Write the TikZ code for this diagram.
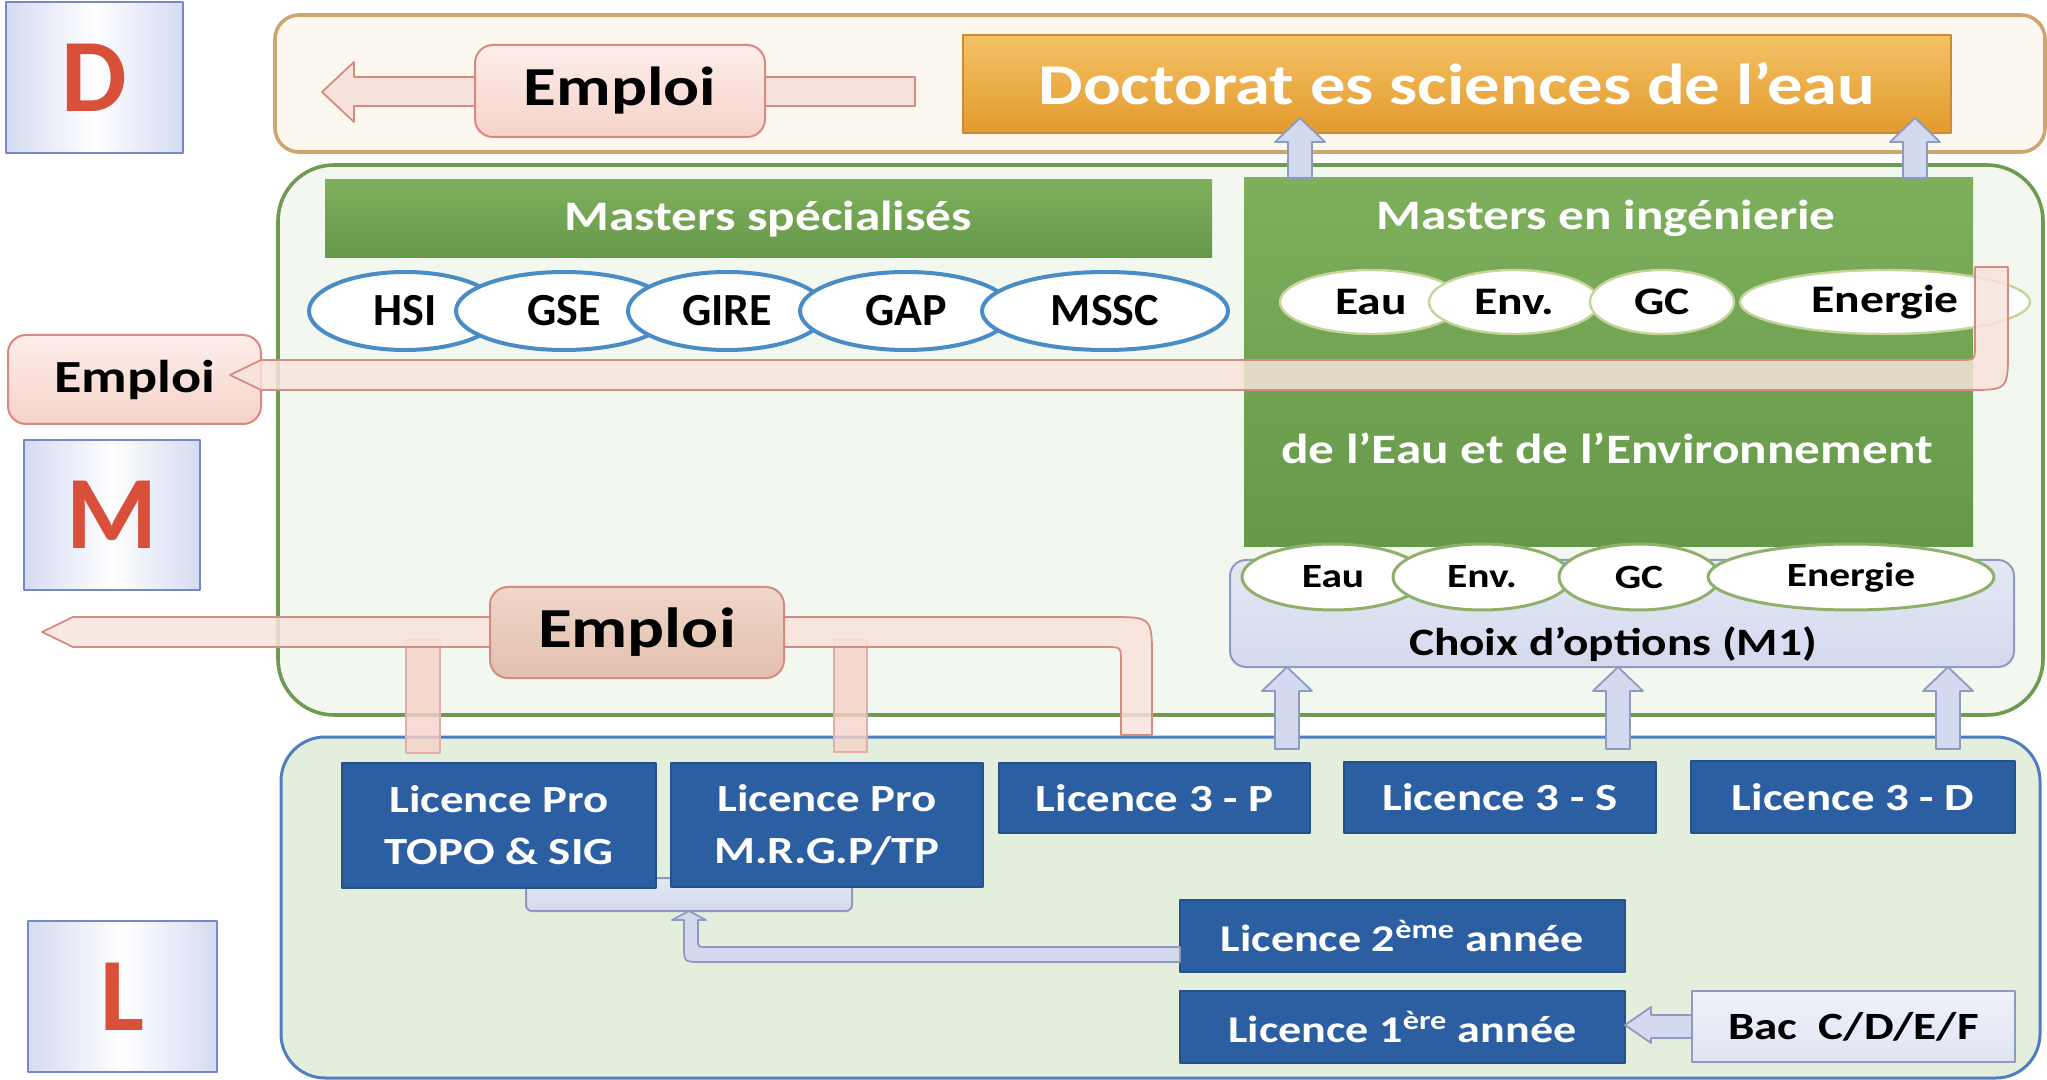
\documentclass[tikz,border=0pt]{standalone}
\usepackage{fontspec}
\setmainfont{Carlito}[FakeStretch=1.22]
\newfontfamily\lvlfont{Carlito}
\usetikzlibrary{shapes.geometric}

\definecolor{tanline}{HTML}{CFA46E}
\definecolor{tanfill}{HTML}{FCF8EF}
\definecolor{doctop}{HTML}{F4C266}
\definecolor{docbot}{HTML}{E39A2D}
\definecolor{docline}{HTML}{C98B34}
\definecolor{pinktop}{HTML}{FDEEEA}
\definecolor{pinkbot}{HTML}{F6D2CA}
\definecolor{pinkline}{HTML}{D98A80}
\definecolor{tantop}{HTML}{F0D6C9}
\definecolor{tanbot}{HTML}{E3BFAE}
\definecolor{lvlside}{HTML}{D5DBF2}
\definecolor{lvlline}{HTML}{7688C8}
\definecolor{lettered}{HTML}{D9503A}
\definecolor{mline}{HTML}{6F9A52}
\definecolor{mfill}{HTML}{F2F7EF}
\definecolor{gbartop}{HTML}{7DAF5C}
\definecolor{gbarbot}{HTML}{66984A}
\definecolor{ellblue}{HTML}{4A8CC6}
\definecolor{ellygreen}{HTML}{C4D59A}
\definecolor{ellgreen}{HTML}{8FB06B}
\definecolor{dblue}{HTML}{2C5FA2}
\definecolor{dblueline}{HTML}{24508C}
\definecolor{lfill}{HTML}{E4EEDC}
\definecolor{lline}{HTML}{4F7EC0}
\definecolor{lavfill}{HTML}{D3D9EE}
\definecolor{lavline}{HTML}{8E9BC0}
\definecolor{pipefill}{HTML}{F8E3DC}
\definecolor{pipeline}{HTML}{D48C82}

\tikzset{
  lvlbox/.style={draw=lvlline, line width=1pt, left color=lvlside, right color=lvlside,
    middle color=white, inner sep=0, text=lettered,
    font=\lvlfont\bfseries\fontsize{52}{52}\selectfont},
  container/.style={line width=1.8pt, inner sep=0},
  pinkbox/.style={draw=pinkline, line width=1pt, top color=pinktop, bottom color=pinkbot,
    rounded corners=9pt, inner sep=0},
  tanbox/.style={draw=pipeline, line width=1pt, top color=tantop, bottom color=tanbot,
    rounded corners=9pt, inner sep=0},
  docbox/.style={draw=docline, line width=1pt, top color=doctop, bottom color=docbot,
    inner sep=0, text=white, font=\bfseries\fontsize{28.9}{28.9}\selectfont},
  greenbar/.style={fill=gbarbot, top color=gbartop, bottom color=gbarbot, inner sep=0},
  bartext/.style={text=white, inner sep=0, font=\bfseries\fontsize{21}{21}\selectfont},
  blueell/.style={ellipse, draw=ellblue, line width=2pt, fill=white, inner sep=0,
    font=\lvlfont\bfseries\fontsize{23}{23}\selectfont},
  yell/.style={ellipse, draw=ellygreen, line width=1.2pt, fill=white, inner sep=0,
    font=\bfseries\fontsize{19.5}{19.5}\selectfont},
  gell/.style={ellipse, draw=ellgreen, line width=1.5pt, fill=white, inner sep=0,
    font=\bfseries\fontsize{17}{17}\selectfont},
  bluebox/.style={draw=dblueline, line width=0.8pt, fill=dblue, text=white, inner sep=0,
    align=center, font=\bfseries\fontsize{19.2}{26}\selectfont},
  lavbox/.style={draw=lavline, line width=1pt, top color=lavfill!60!white, bottom color=lavfill,
    inner sep=0},
  lavarrow/.style={draw=lavline, line width=0.9pt, fill=lavfill},
  pipe/.style={draw=pipeline, line width=0.9pt, fill=pipefill, fill opacity=0.85},
  stub/.style={draw=pipeline!70, line width=0.8pt, fill=pinkbot, fill opacity=0.8},
}

% upward block arrow: x of the axis, y of the tip, y of the foot
\newcommand\UpArr[3]{\path[lavarrow] (#1-12,#3) -- (#1-12,#2+24) -- (#1-25,#2+24) --
  (#1,#2) -- (#1+25,#2+24) -- (#1+12,#2+24) -- (#1+12,#3) -- cycle;}

\begin{document}
\begin{tikzpicture}[x=0.5pt, y=-0.5pt, line join=round]
\useasboundingbox[fill=white] (0,0) rectangle (2047,1080);

% level tags
\node[lvlbox, minimum width=88.5pt, minimum height=75.5pt] (lvlD) at (94.5,77.5) {D};
\node[lvlbox, minimum width=88pt, minimum height=75pt] (lvlM) at (112,515) {M};
\node[lvlbox, minimum width=94.5pt, minimum height=75.5pt] (lvlL) at (122.5,996.5) {L};

% ---------------- doctorate band ----------------
\node[container, draw=tanline, fill=tanfill, rounded corners=12pt,
  minimum width=885pt, minimum height=68.5pt] (bandD) at (1160,83.5) {};
\path[pipe, fill opacity=1] (915,77) -- (354,77) -- (354,62) -- (322,92) -- (354,122) -- (354,106) -- (915,106) -- cycle;
\node[pinkbox, minimum width=145pt, minimum height=46pt,
  font=\bfseries\fontsize{27.5}{27.5}\selectfont] (empD) at (620,91) {Emploi};
\node[docbox, minimum width=494pt, minimum height=49pt] (doc) at (1457,84) {Doctorat es sciences de l’eau};

% ---------------- licence band ----------------
\node[container, draw=lline, line width=1.5pt, fill=lfill, rounded corners=22pt,
  minimum width=879.5pt, minimum height=170.5pt] (bandL) at (1160.5,907.5) {};

% ---------------- master band ----------------
\node[container, draw=mline, fill=mfill, rounded corners=28pt,
  minimum width=882.5pt, minimum height=275pt] (bandM) at (1160.5,440) {};

% employment outlet from the professional licences
\path[stub] (406,640) rectangle (440,753);
\path[stub] (834,640) rectangle (867,752);
\path[pipe] (73,617) -- (1110,617) .. controls (1152,617) .. (1152,659) -- (1152,735) -- (1121,735)
  -- (1121,662) .. controls (1121,647) .. (1106,647) -- (73,647) -- (42,632) -- cycle;
\node[tanbox, minimum width=147pt, minimum height=45.5pt,
  font=\bfseries\fontsize{28.3}{28.3}\selectfont] (empL) at (637,632.5) {Emploi};

% specialised masters
\node[greenbar, minimum width=443.5pt, minimum height=39pt] (mspec) at (768.5,219) {};
\node[bartext] (mspecT) at (768.5,219) {Masters spécialisés};
\node[blueell, minimum width=96pt, minimum height=39pt] (hsi) at (405,311) {HSI};
\node[blueell, minimum width=108pt, minimum height=39pt] (gse) at (564,311) {GSE};
\node[blueell, minimum width=99pt, minimum height=39pt] (gire) at (727,311) {GIRE};
\node[blueell, minimum width=106pt, minimum height=39pt] (gap) at (906,311) {GAP};
\node[blueell, minimum width=123pt, minimum height=39pt] (mssc) at (1105,311) {MSSC};

% engineering masters
\node[greenbar, minimum width=364.5pt, minimum height=184.5pt] (mei) at (1608.5,362.5) {};
\node[bartext] (meiA) at (1606,218) {Masters en ingénierie};
\node[bartext] (meiB) at (1607,448) {de l’Eau et de l’Environnement};
\node[yell, minimum width=91pt, minimum height=32pt] (tEau) at (1371,302) {Eau};
\node[yell, minimum width=85pt, minimum height=32pt] (tEnv) at (1514,302) {Env.};
\node[yell, minimum width=72pt, minimum height=32pt] (tGC) at (1662,302) {GC};
\node[yell, minimum width=145pt, minimum height=32pt] (tEne) at (1885,302) {Energie};

% employment outlet from the engineering masters
\node[pinkbox, minimum width=126.5pt, minimum height=44.5pt,
  font=\bfseries\fontsize{23}{23}\selectfont] (empM) at (134.5,379.5) {Emploi};
\path[pipe] (1975,267) -- (2008,267) -- (2008,350) .. controls (2008,390) .. (1968,390) -- (261,390)
  -- (230,375) -- (261,360) -- (1960,360) .. controls (1975,360) .. (1975,345) -- cycle;

% first-year master options
\node[lavbox, rounded corners=8pt, minimum width=392pt, minimum height=53.5pt] (choix) at (1622,613.5) {};
\node[inner sep=0, font=\bfseries\fontsize{19.4}{19.4}\selectfont] (choixT) at (1613,644) {Choix d’options (M1)};
\node[gell, minimum width=91pt, minimum height=33pt] (bEau) at (1333,577) {Eau};
\node[gell, minimum width=89pt, minimum height=33pt] (bEnv) at (1482,577) {Env.};
\node[gell, minimum width=80pt, minimum height=33pt] (bGC) at (1639,577) {GC};
\node[gell, minimum width=143pt, minimum height=33pt] (bEne) at (1851,577) {Energie};

% ---------------- licence programmes ----------------
\path[lavbox, rounded corners=3pt] (526,878) rectangle (852,911);
\node[bluebox, minimum width=157pt, minimum height=62.5pt] (lp1) at (499,825.5) {Licence Pro\\TOPO \& SIG};
\node[bluebox, minimum width=156pt, minimum height=62pt] (lp2) at (827,825) {Licence Pro\\M.R.G.P/TP};
\node[bluebox, minimum width=155.5pt, minimum height=35pt] (l3p) at (1154.5,798) {Licence 3 - P};
\node[bluebox, minimum width=156pt, minimum height=35.5pt] (l3s) at (1500,797.5) {Licence 3 - S};
\node[bluebox, minimum width=162pt, minimum height=36pt] (l3d) at (1853,797) {Licence 3 - D};
\node[bluebox, minimum width=222.5pt, minimum height=36pt,
  font=\bfseries\fontsize{18.9}{18.9}\selectfont] (l2) at (1402.5,936) {Licence 2\textsuperscript{ème} année};
\node[bluebox, minimum width=222.5pt, minimum height=36pt,
  font=\bfseries\fontsize{18.9}{18.9}\selectfont] (l1) at (1402.5,1027) {Licence 1\textsuperscript{ère} année};
\node[lavbox, top color=lavfill!35!white, bottom color=lavfill!70!white, minimum width=161.5pt, minimum height=35.5pt,
  font=\bfseries\fontsize{19.3}{19.3}\selectfont] (bac) at (1853.5,1026.5) {Bac\ \ C/D/E/F};

% Bac -> first year
\path[lavarrow] (1692,1015) -- (1651,1015) -- (1651,1007) -- (1625,1025) -- (1651,1043) -- (1651,1038) -- (1692,1038) -- cycle;
% second year -> professional licences
\path[lavarrow] (1180,947) -- (706,947) .. controls (698,947) .. (698,939) -- (698,920) -- (706,920)
  -- (689,911) -- (672,920) -- (684,920) -- (684,945) .. controls (684,962) .. (701,962) -- (1180,962) -- cycle;

% third year -> M1 options
\UpArr{1287}{667}{749}
\UpArr{1618}{667}{749}
\UpArr{1948}{667}{749}
% engineering masters -> doctorate
\UpArr{1300}{118}{178}
\UpArr{1915}{118}{178}
\end{tikzpicture}
\end{document}
